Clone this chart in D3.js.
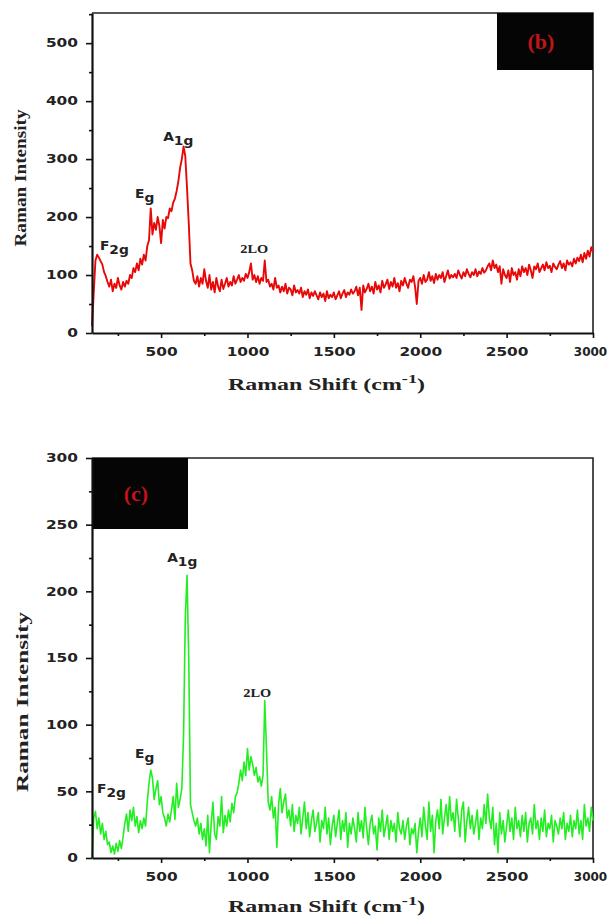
<!DOCTYPE html>
<html>
<head>
<meta charset="utf-8">
<script src="https://cdn.jsdelivr.net/npm/d3@7"></script>
<style>
  body { margin: 0; background: #fff; }
  .tick text { font-family: "DejaVu Sans", Arial, sans-serif; font-weight: bold; font-size: 12px; fill: #222; }
  .title { font-family: "Liberation Serif", "Times New Roman", serif; font-weight: bold; fill: #222; }
  .peak { font-family: "DejaVu Sans", Arial, sans-serif; font-weight: bold; font-size: 12px; fill: #222; }
  .peak2 { font-family: "Liberation Serif", serif; font-weight: bold; font-size: 12.5px; fill: #222; }
</style>
</head>
<body>
<script>
var width = 609,
    height = 918;

// Raman shift grid (cm-1), one reading every 10 cm-1
var shifts = d3.range(100, 3001, 10);

// panel (b): red spectrum
var intensityB = [
  12, 70, 125, 135, 130, 124, 118, 105, 98, 88,
  80, 92, 72, 85, 78, 95, 82, 75, 88, 80,
  90, 85, 100, 95, 112, 105, 120, 108, 128, 118,
  135, 125, 150, 160, 215, 170, 190, 178, 200, 185,
  155, 195, 180, 200, 198, 215, 210, 225, 232, 245,
  262, 285, 300, 322, 305, 250, 190, 120, 108, 90,
  85, 98, 80, 95, 85, 110, 90, 78, 100, 75,
  88, 70, 95, 80, 72, 92, 76, 85, 95, 80,
  88, 82, 98, 85, 92, 100, 88, 95, 90, 102,
  95, 105, 120, 92, 100, 88, 98, 85, 95, 90,
  125, 88, 92, 80, 85, 75, 95, 78, 82, 70,
  80, 72, 85, 68, 78, 75, 65, 82, 70, 74,
  68, 78, 62, 72, 66, 75, 60, 70, 64, 72,
  65, 58, 70, 62, 68, 55, 72, 60, 66, 62,
  70, 58, 65, 72, 60, 68, 74, 62, 70, 66,
  75, 68, 72, 80, 65, 78, 40, 82, 70, 76,
  85, 72, 80, 68, 88, 75, 82, 70, 90, 78,
  84, 92, 76, 88, 80, 95, 78, 86, 72, 90,
  82, 95, 85, 78, 92, 88, 98, 80, 50, 90,
  95, 85, 100, 88, 92, 105, 90, 98, 86, 102,
  92, 100, 95, 105, 88, 98, 108, 94, 100, 96,
  102, 95, 108, 100, 94, 105, 98, 110, 102, 96,
  105, 100, 110, 98, 106, 102, 112, 104, 108, 115,
  120, 108, 125, 112, 118, 105, 115, 85, 110, 100,
  95, 108, 88, 112, 100, 105, 92, 110, 98, 115,
  105, 112, 100, 118, 108, 95, 115, 110, 120, 105,
  112, 118, 108, 122, 112, 116, 105, 120, 114, 110,
  118, 124, 112, 120, 108, 125, 118, 122, 115, 128,
  120, 130, 124, 135, 122, 138, 128, 142, 132, 148,
  140
];

// panel (c): green spectrum
var intensityC = [
  0, 30, 35, 22, 30, 18, 26, 14, 20, 10,
  12, 4, 9, 3, 11, 5, 13, 7, 16, 26,
  33, 20, 36, 28, 38, 24, 31, 19, 28, 22,
  30, 24, 42, 56, 66, 60, 44, 52, 58, 40,
  46, 34, 30, 24, 33, 27, 36, 46, 29, 56,
  38, 44, 52, 92, 180, 212, 150, 40, 34, 28,
  24, 30, 18, 26, 14, 22, 9, 32, 4, 26,
  42, 18, 14, 31, 24, 46, 19, 32, 24, 36,
  27, 41, 34, 46, 49, 56, 66, 58, 72, 62,
  82, 66, 76, 70, 62, 68, 57, 61, 54, 62,
  118, 82, 42, 36, 46, 30, 38, 8, 40, 52,
  34, 42, 48, 30, 36, 24, 40, 20, 32, 26,
  38, 18, 30, 42, 22, 34, 16, 28, 36, 20,
  26, 34, 12, 28, 22, 38, 18, 30, 10, 24,
  32, 16, 26, 36, 14, 28, 20, 34, 8, 26,
  18, 30, 22, 12, 34, 20, 28, 15, 38, 22,
  10, 26, 32, 18, 24, 6, 30, 20, 36, 16,
  24, 32, 14, 28, 20, 26, 12, 34, 22, 18,
  28, 14, 24, 30, 10, 22, 18, 26, 4, 20,
  30, 16, 38, 24, 14, 42, 20, 32, 4, 28,
  36, 22, 44, 18, 30, 40, 24, 46, 28, 34,
  20, 44, 30, 16, 36, 42, 12, 28, 38, 22,
  32, 18, 26, 36, 14, 30, 22, 40, 26, 48,
  30, 22, 38, 10, 26, 4, 34, 18, 28, 12,
  24, 36, 20, 30, 14, 38, 22, 28, 16, 32,
  20, 34, 12, 26, 30, 18, 40, 22, 28, 14,
  30, 20, 36, 16, 26, 22, 32, 12, 28, 24,
  18, 30, 22, 34, 14, 26, 20, 32, 16, 28,
  22, 36, 18, 28, 14, 40, 24, 30, 20, 38,
  28
];

var xTicks = [500, 1000, 1500, 2000, 2500, 3000];

// peak names (main letter + subscript), and where they sit in each panel
var peakMain = ["F", "E", "A", "2LO"];
var peakSub = ["2g", "g", "1g", ""];
var peakShiftB = [146, 349, 512, 958];
var peakIntB = [143, 233, 331, 138];
var peakShiftC = [129, 349, 535, 976];
var peakIntC = [49, 75, 222, 121];

var svg = d3.select('body')
    .append('svg')
    .attr('width', width)
    .attr('height', height);

function panel(cfg) {
  var x = d3.scaleLinear().domain([100, 3000]).range([92, 593]);
  var y = d3.scaleLinear().domain([0, cfg.yMax]).range([cfg.bottom, cfg.top]);
  var g = svg.append("g");

  // frame: top and right
  g.append("path")
      .attr("d", "M" + x.range()[0] + "," + cfg.top + "H" + x.range()[1] + "V" + cfg.bottom)
      .attr("fill", "none")
      .attr("stroke", "#222")
      .attr("stroke-width", 1.6);

  // tag box
  var tagX = cfg.tagLeft ? x.range()[0] : x.range()[1] - 96;
  g.append("rect")
      .attr("x", tagX)
      .attr("y", cfg.top)
      .attr("width", 96)
      .attr("height", cfg.tagH)
      .attr("fill", "#050505");
  g.append("text")
      .attr("x", tagX + 44)
      .attr("y", cfg.top + cfg.tagH / 2 + 7)
      .attr("text-anchor", "middle")
      .attr("font-family", "Liberation Serif, serif")
      .attr("font-weight", "bold")
      .attr("font-size", 22)
      .attr("fill", "#c0141a")
      .text(cfg.tag);

  // spectrum
  var line = d3.line()
      .x(function(d, i) { return x(shifts[i]); })
      .y(function(d) { return y(d); });
  g.append("path")
      .datum(cfg.values)
      .attr("d", line)
      .attr("fill", "none")
      .attr("stroke", cfg.color)
      .attr("stroke-width", cfg.lineW)
      .attr("stroke-linejoin", "round");

  // minor ticks
  var xMinor = d3.axisBottom(x).tickValues(d3.range(250, 3001, 500)).tickSize(3).tickFormat("");
  g.append("g").attr("transform", "translate(0," + cfg.bottom + ")").call(xMinor)
      .call(function(s) { s.select(".domain").remove(); });
  var yMinor = d3.axisLeft(y).tickValues(d3.range(cfg.yStep / 2, cfg.yMax, cfg.yStep)).tickSize(3).tickFormat("");
  g.append("g").attr("transform", "translate(92,0)").call(yMinor)
      .call(function(s) { s.select(".domain").remove(); });

  // major axes
  var xAxis = d3.axisBottom(x).tickValues(xTicks).tickFormat(d3.format("d"))
      .tickSize(5).tickSizeOuter(0).tickPadding(6);
  var gx = g.append("g").attr("transform", "translate(0," + cfg.bottom + ")").call(xAxis);
  var yAxis = d3.axisLeft(y).tickValues(d3.range(0, cfg.yMax + 1, cfg.yStep)).tickSize(6).tickSizeOuter(0).tickPadding(5);
  var gy = g.append("g").attr("transform", "translate(92,0)").call(yAxis);

  [gx, gy].forEach(function(a) {
    a.select(".domain").attr("stroke", "#111").attr("stroke-width", 2.2);
  });
  gx.selectAll(".tick text")
      .attr("transform", function(d) { return d === 3000 ? null : "scale(1.28,1)"; })
      .attr("dx", function(d) { return d === 3000 ? -3 : 0; })
      .attr("dy", "1em");
  gy.selectAll(".tick text").attr("transform", "scale(1.28,1)");
  g.selectAll(".tick line").attr("stroke", "#111").attr("stroke-width", 1.6);

  // axis titles
  g.append("text")
      .attr("class", "title")
      .attr("transform", "translate(" + cfg.yTitleX + "," + cfg.yTitleY + ") rotate(-90)")
      .attr("text-anchor", "middle")
      .attr("font-size", 16)
      .attr("textLength", cfg.yTitleLen)
      .attr("lengthAdjust", "spacingAndGlyphs")
      .text("Raman Intensity");

  var xt = g.append("text")
      .attr("class", "title")
      .attr("x", 228)
      .attr("y", cfg.xTitleY)
      .attr("font-size", 17)
      .attr("textLength", 197)
      .attr("lengthAdjust", "spacingAndGlyphs");
  xt.append("tspan").text("Raman Shift (cm");
  xt.append("tspan").attr("dy", -7).attr("font-size", 13).text("-1");
  xt.append("tspan").attr("dy", 7).text(")");

  // peak labels
  peakMain.forEach(function(name, i) {
    var px = x(cfg.peakShift[i]);
    var t = g.append("text")
        .attr("class", peakSub[i] ? "peak" : "peak2")
        .attr("x", px)
        .attr("y", y(cfg.peakInt[i]))
        .attr("transform", "translate(" + px * -0.15 + ",0) scale(1.15,1)");
    t.append("tspan").text(name);
    if (peakSub[i]) t.append("tspan").attr("dy", 4).text(peakSub[i]);
  });
}

panel({
  top: 13, bottom: 333, yMax: 552, yStep: 100,
  values: intensityB, color: "#e80808", lineW: 1.9,
  tag: "(b)", tagLeft: false, tagH: 57,
  yTitleX: 26, yTitleY: 178, yTitleLen: 137, xTitleY: 390,
  peakShift: peakShiftB, peakInt: peakIntB
});

panel({
  top: 458, bottom: 858, yMax: 300, yStep: 50,
  values: intensityC, color: "#22ee22", lineW: 1.6,
  tag: "(c)", tagLeft: true, tagH: 71,
  yTitleX: 28, yTitleY: 702, yTitleLen: 180, xTitleY: 912,
  peakShift: peakShiftC, peakInt: peakIntC
});
</script>
</body>
</html>
